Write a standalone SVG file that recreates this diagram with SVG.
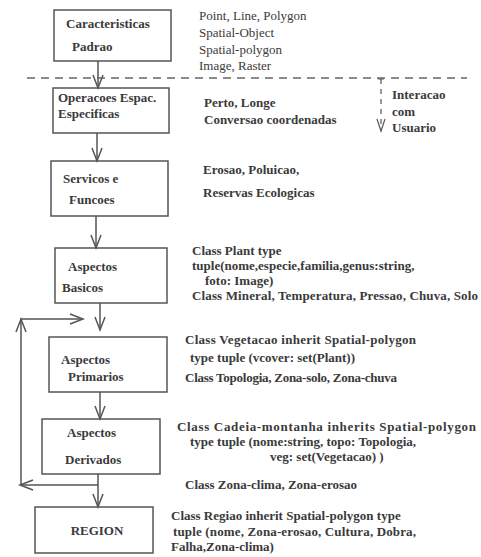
<svg xmlns="http://www.w3.org/2000/svg" width="481" height="557" viewBox="0 0 481 557">
<defs>
<style>
.box{fill:none;stroke:#555;stroke-width:1.5}
.ln{fill:none;stroke:#555;stroke-width:1.5}
.ah{fill:none;stroke:#555;stroke-width:1.5;stroke-linejoin:miter}
.dash{fill:none;stroke:#666;stroke-width:1.3;stroke-dasharray:8,6}
.t{font-family:'Liberation Serif','DejaVu Serif',serif;font-size:13px;fill:#3a3a3a;font-weight:bold}
.reg{font-weight:normal}
</style>
</defs>
<rect width="481" height="557" fill="#fff"/>
<g id="connectors">
<line class="ln" x1="98" y1="61" x2="98" y2="88"/>
<polyline class="ah" points="93,75 98,88 103,75"/>
<line class="ln" x1="97" y1="133" x2="97" y2="161"/>
<polyline class="ah" points="92,148 97,161 102,148"/>
<line class="ln" x1="96" y1="216" x2="96" y2="248"/>
<polyline class="ah" points="91,235 96,248 101,235"/>
<line class="ln" x1="100" y1="303" x2="100" y2="330"/>
<polyline class="ah" points="95,317 100,330 105,317"/>
<line class="ln" x1="100" y1="392" x2="100" y2="419"/>
<polyline class="ah" points="95,406 100,419 105,406"/>
<line class="ln" x1="98" y1="474" x2="98" y2="507"/>
<polyline class="ah" points="93,494 98,507 103,494"/>
<polyline class="ln" points="98,485 21,485 21,319 83,319"/>
<polyline class="ah" points="33,480 20,485 33,490"/>
<polyline class="ah" points="16,332 21,319 26,332"/>
<polyline class="ah" points="70,314 83,319 70,324"/>
<line class="dash" x1="27" y1="78" x2="467" y2="78"/>
<line class="ln" x1="378" y1="79" x2="384" y2="79" style="stroke-width:1"/>
<line class="ln" x1="381" y1="79" x2="381" y2="131" style="stroke-dasharray:5,5;stroke-width:1.2"/>
<polyline class="ah" points="377,119 381,131 385,119" style="stroke-width:1.2"/>
</g>
<g class="t" font-family="Liberation Serif, DejaVu Serif, serif">
<g id="n1">
<rect class="box" x="54" y="10" width="117" height="51"/>
<text x="66" y="28">Caracteristicas</text>
<text x="72" y="51">Padrao</text>
</g>
<g id="t1" class="reg">
<text x="199" y="19.5">Point, Line, Polygon</text>
<text x="199" y="36.5">Spatial-Object</text>
<text x="199" y="53.5">Spatial-polygon</text>
<text x="199" y="69.5">Image, Raster</text>
</g>
<g id="n2">
<rect class="box" x="53" y="88" width="116" height="45"/>
<text x="58" y="102">Operacoes Espac.</text>
<text x="58" y="118">Especificas</text>
</g>
<g id="t2">
<text x="204" y="107">Perto, Longe</text>
<text x="204" y="124">Conversao coordenadas</text>
</g>
<g id="user">
<text x="392" y="99">Interacao</text>
<text x="392" y="116">com</text>
<text x="392" y="132">Usuario</text>
</g>
<g id="n3">
<rect class="box" x="51" y="161" width="117" height="55"/>
<text x="63" y="183">Servicos e</text>
<text x="69" y="204">Funcoes</text>
</g>
<g id="t3">
<text x="203" y="174">Erosao, Poluicao,</text>
<text x="203" y="197">Reservas Ecologicas</text>
</g>
<g id="n4">
<rect class="box" x="55" y="248" width="112" height="55"/>
<text x="68" y="271">Aspectos</text>
<text x="62" y="292">Basicos</text>
</g>
<g id="t4">
<text x="192" y="254.5">Class Plant type</text>
<text x="192" y="269.5">tuple(nome,especie,familia,genus:string,</text>
<text x="205" y="284.5">foto: Image)</text>
<text x="192" y="299.5" textLength="286" lengthAdjust="spacing">Class Mineral, Temperatura, Pressao, Chuva, Solo</text>
</g>
<g id="n5">
<rect class="box" x="49" y="337" width="118" height="55"/>
<text x="61" y="364">Aspectos</text>
<text x="68" y="381">Primarios</text>
</g>
<g id="t5">
<text x="185" y="344" textLength="231" lengthAdjust="spacing">Class Vegetacao inherit Spatial-polygon</text>
<text x="190" y="362">type tuple (vcover: set(Plant))</text>
<text x="185" y="382" textLength="212" lengthAdjust="spacing">Class Topologia, Zona-solo, Zona-chuva</text>
</g>
<g id="n6">
<rect class="box" x="42" y="419" width="118" height="55"/>
<text x="67" y="437">Aspectos</text>
<text x="65" y="464">Derivados</text>
</g>
<g id="t6">
<text x="177" y="431" textLength="299" lengthAdjust="spacing">Class Cadeia-montanha inherits Spatial-polygon</text>
<text x="190" y="446">type tuple (nome:string, topo: Topologia,</text>
<text x="270" y="461">veg: set(Vegetacao) )</text>
<text x="185" y="489">Class Zona-clima, Zona-erosao</text>
</g>
<g id="n7">
<rect class="box" x="35" y="507" width="118" height="46"/>
<text x="97" y="535" text-anchor="middle">REGION</text>
</g>
<g id="t7">
<text x="171" y="520">Class Regiao inherit Spatial-polygon type</text>
<text x="173" y="536" textLength="243" lengthAdjust="spacing">tuple (nome, Zona-erosao, Cultura, Dobra,</text>
<text x="171" y="551">Falha,Zona-clima)</text>
</g>
</g>
</svg>
